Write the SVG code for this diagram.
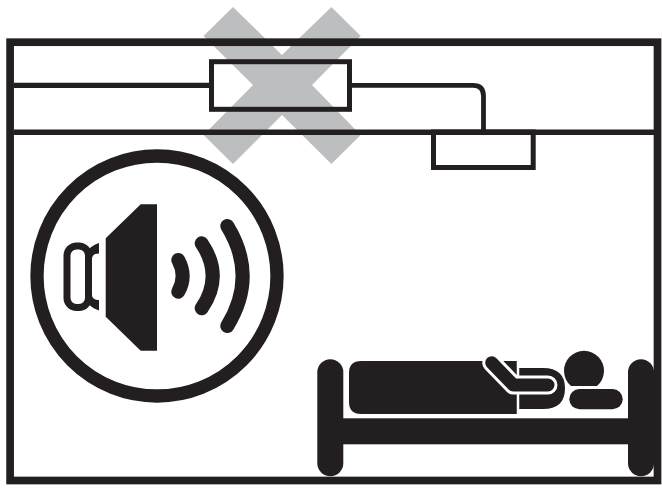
<svg xmlns="http://www.w3.org/2000/svg" width="662" height="488" viewBox="0 0 662 488">
<style>
.k{fill:#231f20;stroke:none}
.l{fill:none;stroke:#231f20;stroke-linejoin:miter}
.w{fill:none;stroke:#231f20;stroke-width:14;stroke-linecap:round}
</style>
<rect width="662" height="488" fill="#fff"/>
<polygon id="cross" fill="#bcbec0" points="233,7 282,55 331.4,7 360.7,36 312,85 360.7,135 331.4,164 282,115 233,164 203.6,135 253,85 203.6,36"/>
<g id="connectors">
<path class="l" stroke-width="5.3" d="M14,85.3H209"/>
<path class="l" stroke-width="4.8" d="M352,85.3H473Q483.5,85.3 483.5,96V131"/>
</g>
<g id="room">
<rect class="l" stroke-width="7.7" x="10.1" y="42.2" width="647.4" height="438.3"/>
<path class="l" stroke-width="5.6" d="M14,132.2H654"/>
</g>
<g id="box-main"><rect class="l" stroke-width="5" x="211.5" y="61.7" width="138" height="47.6"/></g>
<g id="box-small"><rect class="l" stroke-width="5" x="433.5" y="132" width="99.7" height="35.5"/></g>
<g id="speaker">
<circle class="l" stroke-width="13.3" cx="157" cy="276" r="120"/>
<polygon class="k" points="105.7,238.3 140.7,204.3 157,204.3 157,350.7 140.7,350.7 105.7,316.7"/>
<rect class="l" stroke-width="7" x="67" y="246" width="21.500" height="61.500" rx="9.500"/>
<path class="k" d="M99,243V253.500C95,253.500 92,255 92,259H85C85,250 93,245 99,243Z"/>
<path class="k" d="M99,310.500V300C95,300 92,298.500 92,294.500H85C85,303.500 93,308.500 99,310.500Z"/>
<path class="w" d="M178.3,260Q187,276 178.3,291.7"/>
<path class="w" d="M201.7,243.3Q223.7,276 201.7,308.3"/>
<path class="w" d="M227.3,226Q258,276 227.3,326"/>
</g>
<g id="bed">
<rect class="k" x="317.3" y="359.3" width="26" height="117" rx="13"/>
<rect class="k" x="628" y="359.3" width="26" height="117" rx="13"/>
<rect class="k" x="330" y="418.3" width="310" height="26"/>
</g>
<g id="sleeper">
<path class="k" d="M518,368H543Q565,368 565,388.500Q565,409 543,409H518Z"/>
<path class="k" d="M361,361H518V414H361Q349,414 349,402V373Q349,361 361,361Z"/>
<path d="M518,361V414" fill="none" stroke="#fff" stroke-width="2.500"/>
<path d="M491.700,362.700L513.300,385H548" fill="none" stroke="#fff" stroke-width="19" stroke-linecap="round" stroke-linejoin="round"/>
<path d="M491.700,362.700L513.300,385H548" fill="none" stroke="#231f20" stroke-width="13" stroke-linecap="round" stroke-linejoin="round"/>
<path class="k" d="M571,386A20,20 0 1 1 597,386Z"/>
<rect class="k" x="569.300" y="389" width="53.400" height="20.300" rx="10.150"/>
</g>
</svg>
